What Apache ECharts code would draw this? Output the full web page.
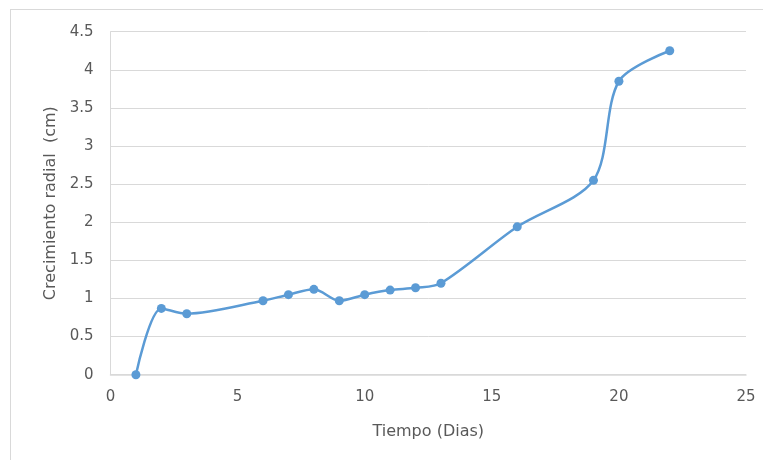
<!DOCTYPE html>
<html><head><meta charset="utf-8">
<script src="https://cdn.jsdelivr.net/npm/echarts@6/dist/echarts.min.js"></script>
<style>html,body{margin:0;padding:0;background:#fff}#c{width:763px;height:460px}
#b{position:absolute;left:10px;top:9px;width:800px;height:500px;border:1px solid #d9d9d9;pointer-events:none}</style>
</head><body><div id="c"></div><div id="b"></div>
<script>
const dias = [1, 2, 3, 6, 7, 8, 9, 10, 11, 12, 13, 16, 19, 20, 22];
const crecimiento = [0, 0.87, 0.80, 0.97, 1.05, 1.12, 0.97, 1.05, 1.11, 1.14, 1.20, 1.94, 2.55, 3.85, 4.25];
const xTitle = 'Tiempo (Dias)';
const yTitle = 'Crecimiento radial  (cm)';
const font = 'DejaVu Sans';
const chart = echarts.init(document.getElementById('c'));
chart.setOption({
  animation: false,
  grid: {left: 110.5, right: 17, top: 31.7, bottom: 85.3},
  xAxis: {
    type: 'value', min: 0, max: 25, interval: 5,
    name: xTitle, nameLocation: 'middle', nameGap: 49,
    nameTextStyle: {color: '#595959', fontSize: 16, fontFamily: font},
    axisLine: {show: true, lineStyle: {color: '#d9d9d9', width: 1.5}},
    axisTick: {show: false},
    splitLine: {show: false},
    axisLabel: {color: '#595959', fontSize: 15, fontFamily: font, margin: 15}
  },
  yAxis: {
    type: 'value', min: 0, max: 4.5, interval: 0.5,
    name: yTitle, nameLocation: 'middle', nameGap: 50,
    nameTextStyle: {color: '#595959', fontSize: 16, fontFamily: font},
    axisLine: {show: true, lineStyle: {color: '#d9d9d9', width: 1}},
    axisTick: {show: false},
    splitLine: {lineStyle: {color: '#d9d9d9', width: 1}},
    axisLabel: {color: '#595959', fontSize: 15, fontFamily: font, margin: 17}
  },
  series: [{
    type: 'line',
    data: dias.map((d, i) => [d, crecimiento[i]]),
    smooth: 0.3,
    symbol: 'circle', symbolSize: 9,
    lineStyle: {color: '#5B9BD5', width: 2.5},
    itemStyle: {color: '#5B9BD5'}
  }]
});
</script></body></html>
